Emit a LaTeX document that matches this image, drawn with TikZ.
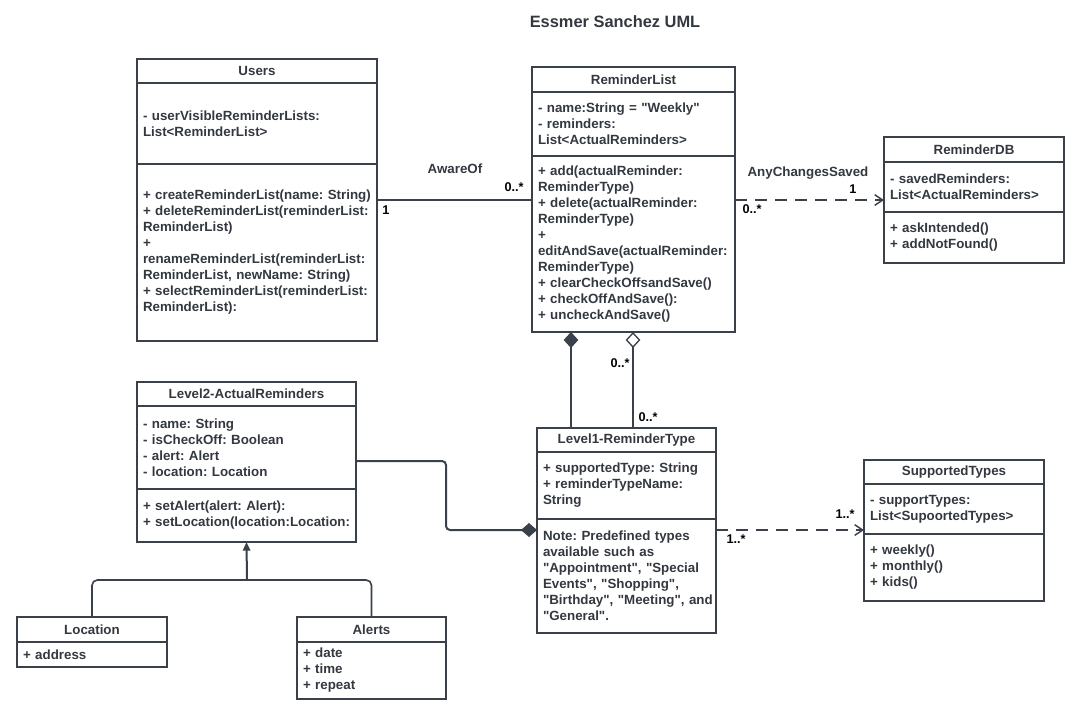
\documentclass[tikz,border=0pt]{standalone}
\usepackage{fontspec}
\setmainfont{Liberation Sans}[Ligatures=TeXOff]
\usetikzlibrary{positioning,arrows.meta}
\definecolor{linec}{HTML}{3A414A}
\definecolor{textc}{HTML}{333840}
\frenchspacing

\begin{document}
\begin{tikzpicture}[x=0.75pt, y=-0.75pt,
every node/.append style={execute at begin node={\hyphenpenalty=10000}},
ctitle/.style={draw=linec, line width=1pt, outer sep=0pt, inner sep=0pt, anchor=north west, text=textc, font=\fontsize{10}{12}\selectfont\bfseries},
csect/.style={draw=linec, line width=1pt, outer sep=0pt, inner xsep=4.5pt, inner ysep=0pt, align=left, text=textc, font=\fontsize{10}{12}\selectfont\bfseries},
rel/.style={inner sep=0pt, text=textc, font=\fontsize{10}{12}\selectfont\bfseries},
mult/.style={inner sep=0pt, text=black, font=\fontsize{9.5}{11}\selectfont\bfseries},
assoc/.style={draw=linec, line width=1.1pt},
depend/.style={draw=linec, line width=1.1pt, dash pattern=on 9pt off 6pt, -{Straight Barb[length=6pt,width=8pt]}}
]
    \useasboundingbox (0,0) rectangle (1078,708);

    %Nodes
    \node[font=\fontsize{12.3}{14}\selectfont\bfseries, text=textc] (title) at (615,22) {Essmer Sanchez UML};

    \node[ctitle, minimum width=180pt, minimum height=18pt] (usersT) at (137,59) {Users};
    \node[csect, text width=171pt, minimum height=60.75pt, below=0pt of usersT] (usersA)
        {- userVisibleReminderLists:\\List<ReminderList>};
    \node[csect, text width=171pt, minimum height=132.75pt, below=0pt of usersA] (usersM)
        {+~createReminderList(name:~String)\\+ deleteReminderList(reminderList:\\ReminderList)\\+\\renameReminderList(reminderList:\\ReminderList, newName: String)\\+ selectReminderList(reminderList:\\ReminderList):};

    \node[ctitle, minimum width=152.25pt, minimum height=18.75pt] (rlistT) at (532,67) {ReminderList};
    \node[csect, text width=143.25pt, minimum height=48pt, below=0pt of rlistT] (rlistA)
        {- name:String = "Weekly"\\- reminders:\\List<ActualReminders>};
    \node[csect, text width=143.25pt, minimum height=132pt, below=0pt of rlistA] (rlistM)
        {+ add(actualReminder:\\ReminderType)\\+ delete(actualReminder:\\ReminderType)\\+\\editAndSave(actualReminder:\\ReminderType)\\+ clearCheckOffsandSave()\\+ checkOffAndSave():\\+ uncheckAndSave()};

    \node[ctitle, minimum width=135pt, minimum height=18.75pt] (rdbT) at (884,137) {ReminderDB};
    \node[csect, text width=126pt, minimum height=37.5pt, below=0pt of rdbT] (rdbA)
        {- savedReminders:\\List<ActualReminders>};
    \node[csect, text width=126pt, minimum height=38.25pt, below=0pt of rdbA] (rdbM)
        {+ askIntended()\\+ addNotFound()};

    \node[ctitle, minimum width=164.25pt, minimum height=18pt] (lvl2T) at (137,382) {Level2-ActualReminders};
    \node[csect, text width=155.25pt, minimum height=62.25pt, below=0pt of lvl2T] (lvl2A)
        {- name: String\\- isCheckOff: Boolean\\- alert: Alert\\- location: Location};
    \node[csect, text width=155.25pt, minimum height=39.75pt, below=0pt of lvl2A] (lvl2M)
        {+ setAlert(alert: Alert):\\+~setLocation(location:Location:};

    \node[ctitle, minimum width=112.5pt, minimum height=18.75pt] (locT) at (17,617) {Location};
    \node[csect, text width=103.5pt, minimum height=18.75pt, below=0pt of locT] (locA)
        {+ address};

    \node[ctitle, minimum width=111.75pt, minimum height=18.75pt] (alertsT) at (297,617) {Alerts};
    \node[csect, text width=102.75pt, minimum height=42.75pt, below=0pt of alertsT] (alertsA)
        {+ date\\+ time\\+ repeat};

    \node[ctitle, minimum width=134.25pt, minimum height=18pt] (lvl1T) at (537,428) {Level1-ReminderType};
    \node[csect, text width=125.25pt, minimum height=50.25pt, below=0pt of lvl1T] (lvl1A)
        {+ supportedType: String\\+ reminderTypeName:\\String};
    \node[csect, text width=125.25pt, minimum height=85.5pt, below=0pt of lvl1A] (lvl1N)
        {Note: Predefined types\\available such as\\"Appointment", "Special\\Events", "Shopping",\\"Birthday",~"Meeting",~and\\"General".};

    \node[ctitle, minimum width=135pt, minimum height=18pt] (stypesT) at (864,460) {SupportedTypes};
    \node[csect, text width=126pt, minimum height=37.5pt, below=0pt of stypesT] (stypesA)
        {- supportTypes:\\List<SupoortedTypes>};
    \node[csect, text width=126pt, minimum height=50.25pt, below=0pt of stypesA] (stypesM)
        {+ weekly()\\+ monthly()\\+ kids()};

    %Lines
    \coordinate (aw) at (0,200);
    \coordinate (nt) at (0,530);
    \coordinate (l2y) at (0,461);
    \coordinate (bend) at (446,0);
    \coordinate (cmpx) at (571,0);
    \coordinate (aggx) at (633,0);
    \coordinate (gen) at (247,580);

    \draw[assoc] (usersM.east |- aw) -- (rlistM.west |- aw);
    \node[rel] (awareL) at (455,169) {AwareOf};
    \node[mult] (awareA) at (514,187) {0..*};
    \node[mult] (awareB) at (386,210) {1};

    \draw[depend] (rlistM.east |- aw) -- (rdbA.west |- aw);
    \node[rel] (savedL) at (808,173) {AnyChangesSaved};
    \node[mult] (savedA) at (853,189) {1};
    \node[mult] (savedB) at (752,209) {0..*};

    \draw[draw=linec, line width=2pt, -{Diamond[length=12pt,width=11pt]}]
        (lvl1T.north -| cmpx) -- (rlistM.south -| cmpx);
    \draw[draw=linec, line width=1pt, -{Diamond[open,length=12pt,width=11pt]}]
        (lvl1T.north -| aggx) -- (rlistM.south -| aggx);
    \node[mult] (aggA) at (620,363) {0..*};
    \node[mult] (aggB) at (648,417) {0..*};

    \draw[draw=linec, line width=1.5pt, rounded corners=3pt, -{Diamond[length=12pt,width=10.5pt]}]
        (lvl2A.east |- l2y) -| (bend |- nt) -- (lvl1N.west |- nt);

    \draw[depend] (lvl1N.east |- nt) -- (stypesA.west |- nt);
    \node[mult] (typesA) at (845,514) {1..*};
    \node[mult] (typesB) at (736,539) {1..*};

    \draw[draw=linec, line width=1.2pt, rounded corners=4pt] (locT.north) |- (gen);
    \draw[draw=linec, line width=1.2pt, rounded corners=4pt] (alertsT.north) |- (gen);
    \draw[draw=linec, line width=1.5pt, -{Triangle[length=6.5pt,width=5.5pt]}] (gen) -- (lvl2M.south);
\end{tikzpicture}
\end{document}
